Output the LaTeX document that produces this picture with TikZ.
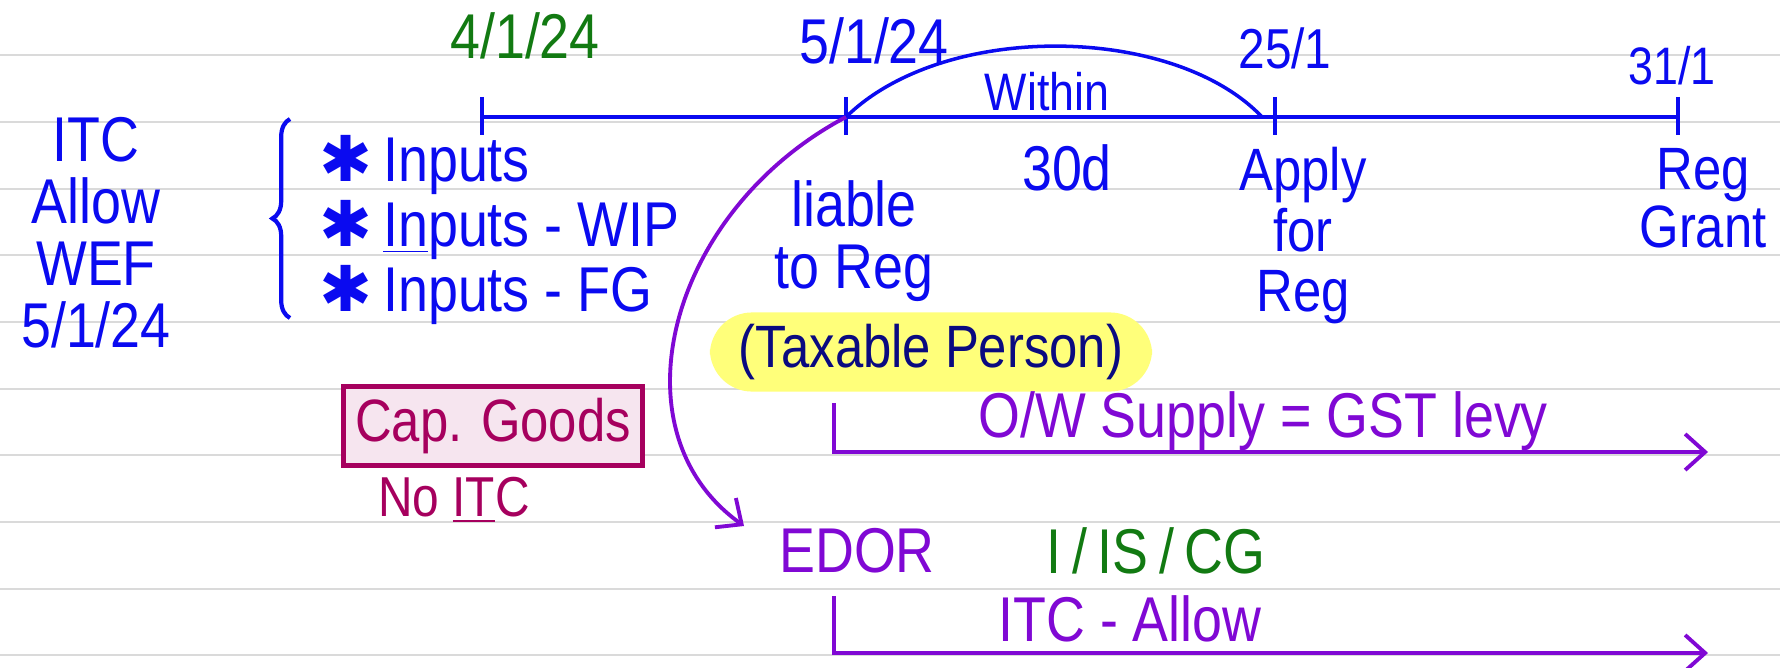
\documentclass[tikz,border=0pt]{standalone}
\usepackage{fontspec}
\setmainfont{Liberation Sans}
\newfontfamily\handfont[FakeStretch=0.85]{Liberation Sans}
\newfontfamily\symfont{DejaVu Sans}
\usetikzlibrary{arrows.meta, positioning, calc, decorations.pathreplacing}
\definecolor{cblue}{HTML}{0A0AF0}
\definecolor{cgreen}{HTML}{127A12}
\definecolor{cviolet}{HTML}{8008D4}
\definecolor{cwine}{HTML}{A6005E}
\definecolor{cnavy}{HTML}{0A0A80}
\definecolor{crule}{HTML}{DADADA}
\definecolor{chigh}{HTML}{FFFF7A}
\newcommand{\bigast}{{\symfont ✱}}
\tikzset{
  every picture/.style={font=\handfont, line width=1.2pt},
  words/.style={text=cblue, font=\handfont\fontsize{18}{17.6}\selectfont, align=center, inner sep=1pt},
  date/.style={words, font=\handfont\fontsize{#1}{17}\selectfont},
  date/.default=18,
  rule/.style={draw=crule, line width=0.6pt},
  tline/.style={draw=cblue, line width=1.4pt},
  flow/.style={draw=cviolet, line width=1.1pt, -{Straight Barb[length=2mm, width=3.6mm]}},
  marker/.style={fill=chigh, rounded corners=12pt, text=cnavy, font=\handfont\fontsize{17}{17}\selectfont, minimum width=4.42cm, minimum height=0.56cm},
  capbox/.style={draw=cwine, fill=cwine!10, text=cwine, line width=1.4pt, font=\handfont\fontsize{17}{17}\selectfont, minimum width=2.86cm, minimum height=0.75cm},
}

\begin{document}
\begin{tikzpicture}[x=0.01cm, y=-0.01cm]
  \useasboundingbox (0,0) rectangle (1780,667);
  % ruled page
  \foreach \k in {0,...,9}
    \draw[rule] (0,55.3+66.67*\k) -- (1780,55.3+66.67*\k);

  % timeline
  \coordinate (t1) at (482,117);
  \coordinate (t2) at (846,117);
  \coordinate (t3) at (1275,117);
  \coordinate (t4) at (1678,117);
  \draw[tline] (t1) -- (t4);
  \foreach \t in {t1,t2,t3,t4}
    \draw[tline] ($(\t)+(0,-20)$) -- ($(\t)+(0,18)$);
  \node[date, text=cgreen] (d1) at (525,36) {4/1/24};
  \node[date] (d2) at (874,41) {5/1/24};
  \node[date=16] (d3) at (1285,48) {25/1};
  \node[date=15] (d4) at (1672,66) {31/1};

  % within 30 days
  \coordinate (a3) at ($(t3)+(-13,0)$);
  \draw[cblue, line width=1pt] (t2) .. controls (945,20) and (1175,25) .. (a3);
  \node[date=15] (within) at (1047,92) {Within};
  \node[words] (days) at (1067,168) {30d};

  % under the dates
  \node[words] (liable) at (854,241) {liable\\to Reg};
  \node[words, font=\handfont\fontsize{17}{17.2}\selectfont] (apply) at (1303,236) {Apply\\for\\Reg};
  \node[words, font=\handfont\fontsize{17}{16.6}\selectfont] (grant) at (1703,198) {Reg\\Grant};

  % stock held
  \node[words] (itc) at (96,233) {ITC\\Allow\\WEF\\5/1/24};
  \node[words, align=left, anchor=west, font=\handfont\fontsize{18}{18.5}\selectfont] (inp) at (314,230)
    {\bigast\,Inputs\\\bigast\,\underline{In}puts - WIP\\\bigast\,Inputs - FG};
  \coordinate (bt) at (290,119);
  \coordinate (bb) at (290,318);
  \draw[cblue, decorate, decoration={brace, amplitude=5pt}] (bb) -- (bt);

  % taxable person
  \node[marker] (taxable) at (931,352) {(Taxable Person)};

  % capital goods
  \node[capbox] (cap) at (493,426) {Cap. Goods};
  \node[date=16, text=cwine] (noitc) at (454,500) {No \underline{IT}C};

  % outward supply
  \coordinate (o1) at (834,403);
  \coordinate (o2) at (834,452);
  \coordinate (o3) at (1708,452);
  \draw[flow] (o1) -- (o2) -- (o3);
  \node[words, text=cviolet, anchor=base] (levy) at (1263,437) {O/W Supply = GST levy};

  % effective date of registration
  \node[words, text=cviolet] (edor) at (857,551) {EDOR};
  \node[date=18, text=cgreen] (igs) at (1156,551) {I\,/\,IS\,/\,CG};
  \coordinate (e0) at (744,526);
  \draw[flow] (t2) .. controls (670,210) and (610,430) .. (e0);
  \coordinate (i1) at (834,596);
  \coordinate (i2) at (834,653);
  \coordinate (i3) at (1708,653);
  \draw[flow] (i1) -- (i2) -- (i3);
  \node[date=18, text=cviolet, anchor=base] (allow) at (1130,641) {ITC - Allow};
\end{tikzpicture}
\end{document}
